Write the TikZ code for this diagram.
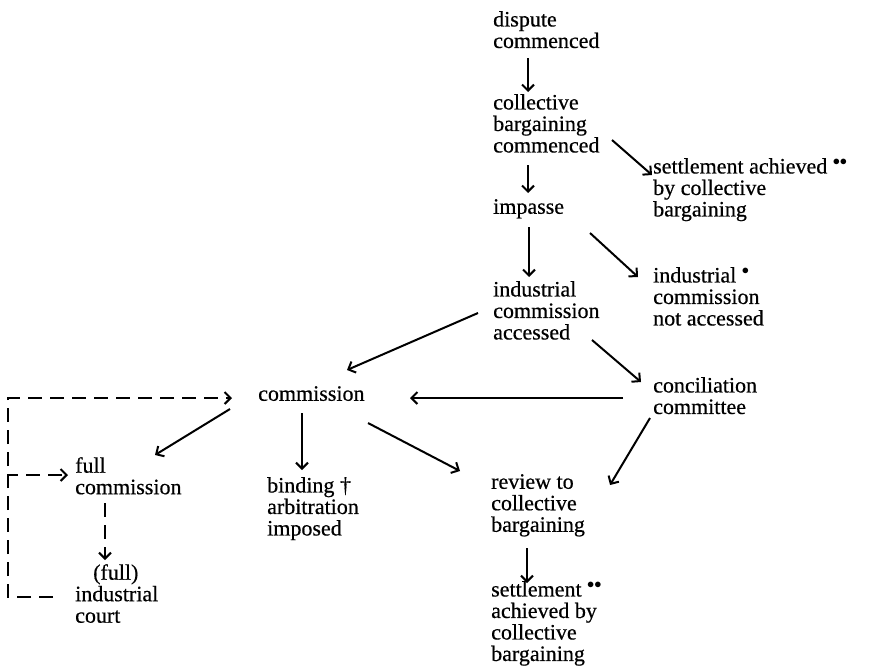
\documentclass[tikz,border=0pt]{standalone}
\usepackage{fontspec}
\setmainfont{Liberation Serif}
\newfontfamily\chartfont{Liberation Serif}[FakeBold=0.5]
\usetikzlibrary{arrows.meta}
\begin{document}
\begin{tikzpicture}[x=1pt,y=-1pt,
  box/.style={inner sep=0pt,anchor=north west,align=left,
    font=\chartfont\fontsize{22}{21.5}\selectfont},
  arr/.style={line width=2pt,-{Straight Barb[length=6pt,width=12pt,line width=2pt]}},
  dsh/.style={arr,dash pattern=on 14pt off 8pt}]
\useasboundingbox (0,0) rectangle (877,667);

% stages of the dispute
\node[box] (dc)   at (493,11)  {dispute\\commenced};
\node[box] (cbc)  at (493,94)  {collective\\bargaining\\commenced};
\node[box] (imp)  at (493,199) {impasse};
\node[box] (ica)  at (493,281) {industrial\\commission\\accessed};
\node[box] (sa1)  at (653,158) {settlement achieved $^{\bullet\bullet}$\\by collective\\bargaining};
\node[box] (nac)  at (653,267) {industrial $^{\bullet}$\\commission\\not accessed};
\node[box] (con)  at (653,377) {conciliation\\committee};
\node[box] (com)  at (258,386) {commission};
\node[box] (fc)   at (75,457)  {full\\commission};
\node[box] (bind) at (267,477) {binding \textdagger\\arbitration\\imposed};
\node[box] (rev)  at (491,474) {review to\\collective\\bargaining};
\node[box] (sa2)  at (491,581) {settlement $^{\bullet\bullet}$\\achieved by\\collective\\bargaining};
\node[box] (ind)  at (75,564)  {\hspace*{18pt}(full)\\industrial\\court};

% solid transitions
\draw[arr] ([shift={(35,47)}]dc.north west)   -- ([shift={(35,-2)}]cbc.north west);
\draw[arr] ([shift={(35,71)}]cbc.north west)  -- ([shift={(35,-6)}]imp.north west);
\draw[arr] ([shift={(119,46)}]cbc.north west) -- ([shift={(-1,17)}]sa1.north west);
\draw[arr] ([shift={(36,28)}]imp.north west)  -- ([shift={(36,-4)}]ica.north west);
\draw[arr] ([shift={(97,34)}]imp.north west)  -- ([shift={(-15,10)}]nac.north west);
\draw[arr] ([shift={(-15,32)}]ica.north west) -- ([shift={(89,-16)}]com.north west);
\draw[arr] ([shift={(99,59)}]ica.north west)  -- ([shift={(-12,5)}]con.north west);
\draw[arr] ([shift={(-30,21)}]con.north west) -- ([shift={(152,12)}]com.north west);
\draw[arr] ([shift={(-28,23)}]com.north west) -- ([shift={(80,-2)}]fc.north west);
\draw[arr] ([shift={(44,27)}]com.north west)  -- ([shift={(35,-7)}]bind.north west);
\draw[arr] ([shift={(110,37)}]com.north west) -- ([shift={(-31,-3)}]rev.north west);
\draw[arr] ([shift={(-3,41)}]con.north west)  -- ([shift={(119,11)}]rev.north west);
\draw[arr] ([shift={(36,74)}]rev.north west)  -- ([shift={(36,2)}]sa2.north west);

% dashed appeal routes
\coordinate (loopx)   at (8,0);
\coordinate (courtout) at ([shift={(-22,33)}]ind.north west);
\coordinate (commin)   at ([shift={(-26,12)}]com.north west);
\coordinate (fullin)   at ([shift={(-7,18)}]fc.north west);
\draw[dsh] ([shift={(30,46)}]fc.north west) -- ([shift={(30,-4)}]ind.north west);
\draw[dsh] (courtout) -- (courtout -| loopx) |- (commin);
\draw[dsh,dash phase=4pt] (fullin -| loopx) -- (fullin);
\end{tikzpicture}
\end{document}
